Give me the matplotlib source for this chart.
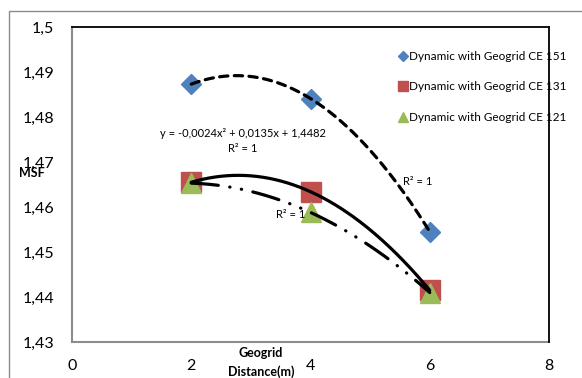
import numpy as np
import matplotlib
matplotlib.use("Agg")
import matplotlib.pyplot as plt
from matplotlib.patches import Rectangle
from matplotlib.ticker import FuncFormatter

plt.rcParams['font.family'] = ['Lato', 'DejaVu Sans']

# data
distance = [2, 4, 6]
msf_151 = [1.4873, 1.4841, 1.4545]
msf_131 = [1.4655, 1.4634, 1.4415]
msf_121 = [1.4653, 1.4588, 1.4410]
labels = ['Dynamic with Geogrid CE 151', 'Dynamic with Geogrid CE 131', 'Dynamic with Geogrid CE 121']
yticks = [1.43, 1.44, 1.45, 1.46, 1.47, 1.48, 1.49, 1.5]
xticks = [0, 2, 4, 6, 8]

W, H = 582, 378
fig = plt.figure(figsize=(W / 100, H / 100), dpi=100)
ax = fig.add_axes([72 / W, 1 - 342 / H, (549 - 72) / W, (342 - 27) / H])

# outer chart border (cut off at right/bottom like the source)
fig.add_artist(Rectangle((9 / W, -0.1), 1.2, 1.1 - 11 / H, transform=fig.transFigure,
                         fill=False, edgecolor='#8c8c8c', linewidth=1.0))

ax.plot(distance, msf_151, 'D', color='#4F81BD', markersize=10, zorder=3, label=labels[0])
ax.plot(distance, msf_131, 's', color='#C0504D', markersize=14.4, zorder=3, label=labels[1])
ax.plot(distance, msf_121, '^', color='#9BBB59', markersize=14.4, zorder=4, label=labels[2])

# polynomial trend lines (order 2)
xs = np.linspace(2, 6, 200)
p151 = np.polyfit(distance, msf_151, 2)
p131 = np.polyfit(distance, msf_131, 2)
p121 = np.polyfit(distance, msf_121, 2)
ax.plot(xs, np.polyval(p151, xs), color='black', lw=2.3, dashes=(2.6, 2.0),
        dash_capstyle='round', zorder=5)
ax.plot(xs, np.polyval(p131, xs), color='black', lw=2.3, solid_capstyle='round', zorder=5)
ax.plot(xs, np.polyval(p121, xs), color='black', lw=2.3, dashes=(8.5, 3.6, 0.1, 3.6, 0.1, 3.6),
        dash_capstyle='round', zorder=5)

ax.text(2.86, 1.47644, 'y = -0,0024x² + 0,0135x + 1,4482', ha='center', va='center', fontsize=8, zorder=6)
ax.text(2.86, 1.47289, 'R² = 1', ha='center', va='center', fontsize=8, zorder=6)
ax.text(5.80, 1.46556, 'R² = 1', ha='center', va='center', fontsize=8, zorder=6)
ax.text(3.66, 1.45844, 'R² = 1', ha='center', va='center', fontsize=8, zorder=6)

ax.set_xlim(0, 8)
ax.set_ylim(1.43, 1.5)
ax.set_xticks(xticks)
ax.set_yticks(yticks)
ax.yaxis.set_major_formatter(FuncFormatter(lambda v, p: ('%g' % round(v, 2)).replace('.', ',')))
ax.tick_params(length=0, labelsize=11.5, pad=13)
ax.tick_params(axis='x', pad=12)

for s in ['left', 'bottom']:
    ax.spines[s].set_color('#8c8c8c')
    ax.spines[s].set_linewidth(1.5)
for s in ['top', 'right']:
    ax.spines[s].set_color('black')
    ax.spines[s].set_linewidth(1.3)
    ax.spines[s].set_zorder(7)

fig.text(32 / W, 1 - 173 / H, 'MSF', ha='center', va='center', fontsize=9, fontweight='bold')
fig.text(261 / W, 1 - 362.5 / H, 'Geogrid\nDistance(m)', ha='center', va='center',
         fontsize=9, fontweight='bold', linespacing=1.55)

ax.legend(loc='upper left', bbox_to_anchor=(398.5 / W, 1 - 51 / H), bbox_transform=fig.transFigure,
          frameon=False, fontsize=8.5, markerscale=0.5, handlelength=0.75, handletextpad=0.15,
          labelspacing=1.65, borderpad=0, borderaxespad=0)

fig.savefig('out.png', dpi=100)
